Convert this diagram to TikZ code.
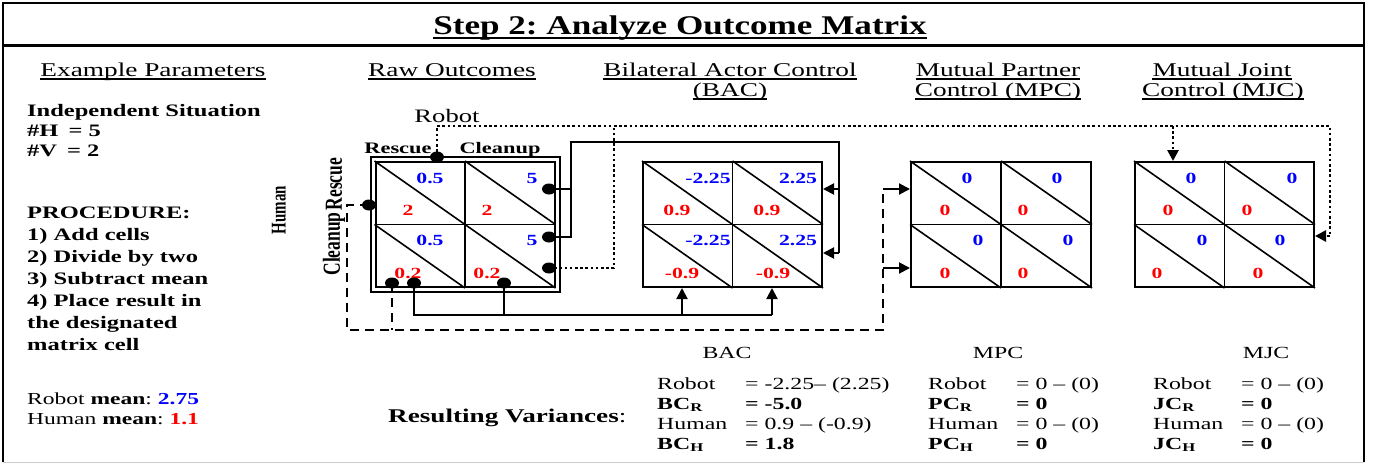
\documentclass[tikz,border=0pt]{standalone}
\usepackage{fontspec}
\setmainfont{Liberation Serif}[FakeStretch=1.4]
\newfontfamily\plainserif{Liberation Serif}
\newfontfamily\titleserif{Liberation Serif}[FakeStretch=1.3]
\usetikzlibrary{arrows.meta,shapes.geometric}
\newcommand\fsz[1]{\fontsize{#1}{#1}\selectfont}
\definecolor{valblue}{RGB}{0,0,255}
\definecolor{valred}{RGB}{255,0,0}
% two-by-two outcome grid: mid lines and one diagonal per cell
\newcommand\cellgrid[1]{%
  \draw[line width=1.8pt] (#1.north) -- (#1.south) (#1.west) -- (#1.east);
  \draw[line width=1.6pt] (#1.north west) -- (#1.center) (#1.north) -- (#1.east)
        (#1.west) -- (#1.south) (#1.center) -- (#1.south east);}
\tikzset{
  lbl/.style={inner sep=0pt, anchor=base west},
  clbl/.style={inner sep=0pt, anchor=base},
  head/.style={clbl, font=\fsz{19.5}},
  bval/.style={inner sep=0pt, font=\fsz{15.5}\bfseries, text=valblue},
  rval/.style={inner sep=0pt, font=\fsz{15.5}\bfseries, text=valred},
  grid/.style={draw, line width=2pt, inner sep=0pt, minimum width=179pt, minimum height=125pt},
  plug/.style={ellipse, fill=black, inner sep=0pt, minimum width=14pt, minimum height=11pt},
  wire/.style={line width=2pt},
  dotwire/.style={line width=2.6pt, dash pattern=on 2.6pt off 2.6pt},
  dashwire/.style={line width=1.8pt, dash pattern=on 9pt off 6pt},
  tip/.style={-{Triangle[length=11pt,width=11pt]}},
  sidelbl/.style={inner sep=0pt, rotate=90, yscale=1.4, font=\plainserif\bfseries\fsz{17.5}},
  param/.style={lbl, font=\fsz{17.5}\bfseries},
  res/.style={lbl, font=\fsz{17}},
  resb/.style={lbl, font=\fsz{17}\bfseries},
}
\begin{document}
\frenchspacing
\begin{tikzpicture}[x=1pt,y=-1pt]
\useasboundingbox (0,0) rectangle (1374,464);

% frame and title bar
\draw[line width=2pt] (3,462) -- (3,3) -- (1364,3) -- (1364,462);
\draw[line width=1pt, black!20] (3,462) -- (1364,462);
\draw[line width=3pt] (3,45) -- (1364,45);

\node[clbl, font=\titleserif\fsz{27}\bfseries] (title) at (680,34) {Step 2: Analyze Outcome Matrix};
\draw[line width=2.6pt] ([yshift=-4pt]title.base west) -- ([yshift=-4pt]title.base east);

% column headings
\node[head] (h1) at (153,76) {Example Parameters};
\node[head] (h2) at (452,76) {Raw Outcomes};
\node[head] (h3) at (730,76) {Bilateral Actor Control};
\node[head] (h4) at (730,96) {(BAC)};
\node[head] (h5) at (998,76) {Mutual Partner};
\node[head] (h6) at (998,96) {Control (MPC)};
\node[head] (h7) at (1222,76) {Mutual Joint};
\node[head] (h8) at (1223,96) {Control (MJC)};
\foreach \h in {h1,h2,h3,h4,h5,h6,h7,h8}
  \draw[line width=1.2pt] ([yshift=-3pt]\h.base west) -- ([yshift=-3pt]\h.base east);

% parameters and procedure
\node[param] (p1) at (27,116) {Independent Situation};
\node[param] (p2) at (27,136) {\#H\hspace{10pt}= 5};
\node[param] (p3) at (27,156) {\#V\hspace{10pt}= 2};
\node[param] (p4) at (27,218) {PROCEDURE:};
\node[param] (p5) at (27,240) {1) Add cells};
\node[param] (p6) at (27,262) {2) Divide by two};
\node[param] (p7) at (27,284) {3) Subtract mean};
\node[param] (p8) at (27,306) {4) Place result in};
\node[param] (p9) at (27,328) {the designated};
\node[param] (p10) at (27,350) {matrix cell};

\node[lbl, font=\fsz{16.8}] (m1) at (27,404) {Robot \textbf{mean}: \textbf{\color{valblue}2.75}};
\node[lbl, font=\fsz{16.8}] (m2) at (27,424) {Human \textbf{mean}: \textbf{\color{valred}1.1}};

% raw outcome matrix
\node[grid] (raw) at (465,224.5) {};
\draw[line width=2pt] ([xshift=-4pt,yshift=4pt]raw.north west) rectangle ([xshift=4pt,yshift=-4pt]raw.south east);
\cellgrid{raw}
\node[clbl, font=\fsz{19}] (robot) at (447,122) {Robot};
\node[clbl, font=\fsz{16}\bfseries] (cA) at (398,153) {Rescue};
\node[clbl, font=\fsz{16}\bfseries] (cB) at (500,153) {Cleanup};
\node[sidelbl, font=\plainserif\bfseries\fsz{15}] (human) at (279,210) {Human};
\node[sidelbl] (rA) at (334,184) {Rescue};
\node[sidelbl] (rB) at (334,244) {Cleanup};

\node[bval] at (430,178) {0.5};  \node[rval] at (408,210) {2};
\node[bval] at (532,178) {5};    \node[rval] at (487,210) {2};
\node[bval] at (430,240) {0.5};  \node[rval] at (408,273) {0.2};
\node[bval] at (532,240) {5};    \node[rval] at (487,273) {0.2};

% bilateral actor control
\node[grid] (bac) at (732.5,224.5) {};
\cellgrid{bac}
\node[bval] at (708,178) {-2.25};  \node[rval] at (677,210) {0.9};
\node[bval] at (798,178) {2.25};   \node[rval] at (767,210) {0.9};
\node[bval] at (708,240) {-2.25};  \node[rval] at (682,273) {-0.9};
\node[bval] at (798,240) {2.25};   \node[rval] at (773,273) {-0.9};

% mutual partner control
\node[grid, minimum width=180pt] (mpc) at (1001,224.5) {};
\cellgrid{mpc}
\node[bval] at (967,178) {0};   \node[rval] at (945,210) {0};
\node[bval] at (1057,178) {0};  \node[rval] at (1023,210) {0};
\node[bval] at (978,240) {0};   \node[rval] at (945,273) {0};
\node[bval] at (1068,240) {0};  \node[rval] at (1023,273) {0};

% mutual joint control
\node[grid] (mjc) at (1224.5,224.5) {};
\cellgrid{mjc}
\node[bval] at (1191,178) {0};  \node[rval] at (1168,210) {0};
\node[bval] at (1292,178) {0};  \node[rval] at (1247,210) {0};
\node[bval] at (1202,240) {0};  \node[rval] at (1157,273) {0};
\node[bval] at (1280,240) {0};  \node[rval] at (1258,273) {0};

% connection points on the raw matrix
\node[plug] (dTop) at (437,157) {};
\node[plug] (dR1) at (549,189) {};
\node[plug] (dR2) at (549,237) {};
\node[plug] (dR3) at (549,268) {};
\node[plug] (dL) at (369,205) {};
\node[plug] (dB1) at (392,283) {};
\node[plug] (dB2) at (414,283) {};
\node[plug] (dB3) at (504,283) {};

% robot outcomes -> MJC (dotted)
\coordinate (rt1) at (437,126);
\coordinate (rt2) at (1330,126);
\coordinate (rt3) at (1330,236);
\coordinate (rj) at (1173,126);
\coordinate (rd) at (614,126);
\draw[dotwire] (dTop.center) -- (rt1) -- (rt2) -- (rt3);
\draw[dotwire, tip] (rt3) -- (mjc.east |- rt3);
\draw[dotwire, tip] (rj) -- (rj |- mjc.north);
\draw[dotwire] (dR3.center) -- (614,268) -- (rd);

% robot outcomes -> BAC (solid, right side)
\coordinate (sa) at (571,142);
\coordinate (sb) at (839,142);
\coordinate (sc) at (839,253);
\coordinate (sd) at (839,189);
\draw[wire] (dR1.center) -- (dR1 -| sa);
\draw[wire] (dR2.center) -- (dR2 -| sa) -- (sa) -- (sb) -- (sc);
\draw[wire, tip] (sc) -- (bac.east |- sc);
\draw[wire, tip] (sd) -- (bac.east |- sd);

% human outcomes -> BAC (solid, bottom)
\coordinate (ba) at (414,315);
\coordinate (bb) at (772,315);
\coordinate (bc) at (682,315);
\draw[wire] (dB2.center) -- (ba) -- (bb);
\draw[wire] (dB3.center) -- (dB3 |- ba);
\draw[wire, tip] (bb) -- (bb |- bac.south);
\draw[wire, tip] (bc) -- (bc |- bac.south);

% human outcomes -> MPC (dashed)
\coordinate (ha) at (347,205);
\coordinate (hb) at (347,330);
\coordinate (hc) at (883,330);
\coordinate (hd) at (883,189);
\coordinate (he) at (883,268);
\draw[dashwire] (dL.center) -- (ha) -- (hb) -- (hc) -- (hd);
\draw[dashwire] (dB1.center) -- (dB1 |- hb);
\draw[wire, tip] (hd) -- (mpc.west |- hd);
\draw[wire, tip] (he) -- (mpc.west |- he);

% resulting variances
\node[lbl, font=\fsz{19.4}] (rv) at (388,422) {\textbf{Resulting Variances}:};
\node[clbl, font=\fsz{17}] (tB) at (727,358) {BAC};
\node[clbl, font=\fsz{17}] (tP) at (998,358) {MPC};
\node[clbl, font=\fsz{17}] (tJ) at (1266,358) {MJC};

\node[res] (b1) at (657,389) {Robot};
\node[res] (b2) at (745,389) {= -2.25– (2.25)};
\node[resb] (b3) at (657,409) {BC\textsubscript{R}};
\node[resb] (b4) at (745,409) {= -5.0};
\node[res] (b5) at (657,429) {Human};
\node[res] (b6) at (745,429) {= 0.9 – (-0.9)};
\node[resb] (b7) at (657,449) {BC\textsubscript{H}};
\node[resb] (b8) at (745,449) {= 1.8};

\node[res] (q1) at (928,389) {Robot};
\node[res] (q2) at (1016,389) {= 0 – (0)};
\node[resb] (q3) at (928,409) {PC\textsubscript{R}};
\node[resb] (q4) at (1016,409) {= 0};
\node[res] (q5) at (928,429) {Human};
\node[res] (q6) at (1016,429) {= 0 – (0)};
\node[resb] (q7) at (928,449) {PC\textsubscript{H}};
\node[resb] (q8) at (1016,449) {= 0};

\node[res] (j1) at (1153,389) {Robot};
\node[res] (j2) at (1241,389) {= 0 – (0)};
\node[resb] (j3) at (1153,409) {JC\textsubscript{R}};
\node[resb] (j4) at (1241,409) {= 0};
\node[res] (j5) at (1153,429) {Human};
\node[res] (j6) at (1241,429) {= 0 – (0)};
\node[resb] (j7) at (1153,449) {JC\textsubscript{H}};
\node[resb] (j8) at (1241,449) {= 0};
\end{tikzpicture}
\end{document}
